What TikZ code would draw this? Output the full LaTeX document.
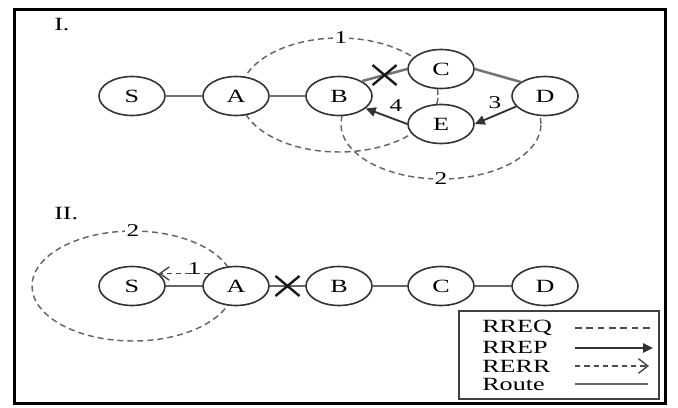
\documentclass[tikz,border=0pt]{standalone}
\usepackage{fontspec}
\setmainfont{Liberation Serif}[FakeStretch=1.4]
\usetikzlibrary{arrows.meta,calc,shapes.geometric}
\begin{document}
\begin{tikzpicture}[x=0.75pt,y=-0.75pt,
  nd/.style={ellipse, draw=black!80, line width=1.2pt, fill=white, minimum width=49.5pt, minimum height=29.25pt, inner sep=0pt, font=\fontsize{14}{14}\selectfont},
  routeA/.style={draw=black!55, line width=1.9pt},
  routeB/.style={draw=black!60, line width=1.3pt},
  req/.style={draw=black!60, line width=1.1pt, dash pattern=on 4.5pt off 3pt},
  rrep/.style={draw=black!80, line width=1.4pt, -{Triangle[length=7.5pt,width=7pt]}},
  rerr/.style={draw=black!70, line width=1.1pt, dash pattern=on 4pt off 3pt, -{Straight Barb[length=7pt,width=10pt]}},
  cross/.style={draw=black!90, line width=1.8pt},
  num/.style={fill=white, inner sep=1pt, font=\fontsize{13.5}{13.5}\selectfont},
  numb/.style={inner sep=1pt, font=\fontsize{13.5}{13.5}\selectfont},
  ttl/.style={anchor=west, inner sep=0pt, font=\fontsize{14}{14}\selectfont},
  legtxt/.style={anchor=west, inner sep=0pt, font=\fontsize{14}{14}\selectfont},
]
\useasboundingbox (0,0) rectangle (678,407);
\fill[white] (0,0) rectangle (678,407);

% dashed ranges
\draw[req] (339,95) ellipse [x radius=74.25pt, y radius=42.75pt];
\begin{scope}
  \clip (300,114) rectangle (600,200);
  \draw[req] (441,124) ellipse [x radius=75pt, y radius=41.25pt];
\end{scope}
\draw[req] (133,286) ellipse [x radius=75.75pt, y radius=41.25pt];

% part I nodes
\node[nd] (S1) at (132,96) {S};
\node[nd] (A1) at (236,96) {A};
\node[nd] (B1) at (339,96) {B};
\node[nd] (C1) at (441,69) {C};
\node[nd] (D1) at (545,96) {D};
\node[nd] (E1) at (441,124) {E};

% part II nodes
\node[nd] (S2) at (132,286) {S};
\node[nd] (A2) at (236,286) {A};
\node[nd] (B2) at (339,286) {B};
\node[nd] (C2) at (441,286) {C};
\node[nd] (D2) at (545,286) {D};

% part I edges
\draw[routeA] (S1) -- (A1);
\draw[routeA] (A1) -- (B1);
\draw[routeA] (B1.33) -- coordinate[pos=0.5] (x1) (C1.west);
\draw[routeA] (C1.east) -- (D1.150);
\draw[rrep] (D1.200) -- (E1.east);
\draw[rrep] (E1.west) -- (B1.-25);
\draw[cross] ($(x1)+(-12,-10)$) -- ($(x1)+(12,10)$) ($(x1)+(-12,10)$) -- ($(x1)+(12,-10)$);

% part II edges
\draw[routeB] (S2) -- (A2);
\draw[routeB] (A2) -- coordinate[pos=0.5] (x2) (B2);
\draw[routeB] (B2) -- (C2);
\draw[routeB] (C2) -- (D2);
\draw[rerr] (A2.155) -- node[numb, pos=0.3, above=-2pt] (l1b) {1} (S2.25);
\draw[cross] ($(x2)+(-12,-10)$) -- ($(x2)+(12,10)$) ($(x2)+(-12,10)$) -- ($(x2)+(12,-10)$);

% labels
\node[num] (l1) at (341,38) {1};
\node[num] (l2) at (441,179) {2};
\node[num] (l2b) at (133,231) {2};
\node[numb] (l3) at (495,103) {3};
\node[numb] (l4) at (396,106) {4};
\node[ttl] (t1) at (54,25) {I.};
\node[ttl] (t2) at (54,214) {II.};

% legend
\node[draw=black!75, line width=1.4pt, minimum width=150pt, minimum height=66pt, inner sep=0pt] (leg) at (559,355) {};
\node[legtxt] (lq) at (482,328) {RREQ};
\node[legtxt] (lp) at (482,347) {RREP};
\node[legtxt] (le) at (482,366) {RERR};
\node[legtxt] (lr) at (482,384) {Route};
\coordinate (q1) at (575,328); \coordinate (q2) at (653,328);
\coordinate (p1) at (575,348); \coordinate (p2) at (653,348);
\coordinate (e1) at (575,366); \coordinate (e2) at (649,366);
\coordinate (r1) at (575,384); \coordinate (r2) at (648,384);
\draw[draw=black!70, line width=1.1pt, dash pattern=on 5pt off 3.5pt] (q1) -- (q2);
\draw[rrep] (p1) -- (p2);
\draw[draw=black!70, line width=1.1pt, dash pattern=on 4pt off 3pt, -{Straight Barb[length=7pt,width=11pt]}] (e1) -- (e2);
\draw[draw=black!60, line width=1.4pt] (r1) -- (r2);

% frame
\draw[line width=2.6pt] (14.3,9.5) rectangle (665.3,403.5);
\end{tikzpicture}
\end{document}
